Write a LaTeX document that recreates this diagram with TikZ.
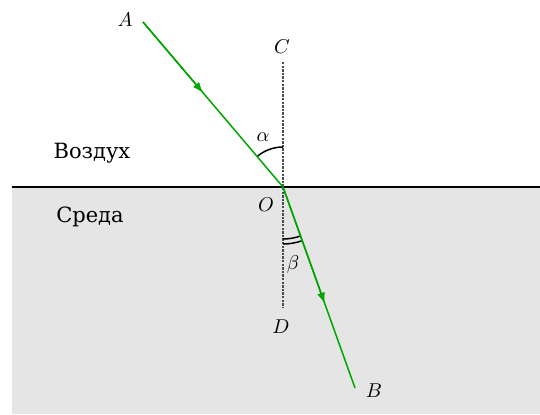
\documentclass[tikz,border=0pt]{standalone}
\usepackage{amsmath,amssymb}
\usepackage{fontspec}
\newfontfamily\cyrfont{DejaVu Serif}
\usepackage{tikz}
\usetikzlibrary{calc}
\usetikzlibrary{arrows.meta}

\begin{document}
\begin{tikzpicture}[x=0.5pt, y=0.5pt, every node/.style={font=\normalsize}]
\useasboundingbox (0,0) rectangle (540,414);

% ===================== MEDIA =====================
\fill[gray!20] (12,0) rectangle (540,227);
\draw[line width=0.8pt] (12,227) -- (540,227);

\node[font=\cyrfont\fontsize{10.5}{12}\selectfont] (air) at (92,261) {Воздух};
\node[font=\cyrfont\fontsize{10.5}{12}\selectfont] (med) at (90,197) {Среда};

% ===================== POINTS =====================
\coordinate (O) at (283,227);
\coordinate (A) at (143,392);
\coordinate (B) at (355,26);
\coordinate (C) at (283,352);
\coordinate (D) at (283,107);

\node (lA) at (125,394) {$A$};
\node (lB) at (374,23) {$B$};
\node (lC) at (282,367) {$C$};
\node (lD) at (281,87) {$D$};
\node (lO) at (266,209) {$O$};

% Normal
\draw[gray!60!black, line width=1.1pt, dash pattern=on 1.2pt off 0.6pt] (C) -- (D);

% Angles
\draw[line width=0.75pt] ($(O)+(90:40)$) arc (90:130.5:40);
\draw[line width=0.75pt] ($(O)+(-90:52)$) arc (-90:-70.4:52);
\draw[line width=0.75pt] ($(O)+(-90:57)$) arc (-90:-70.4:57);
\node (la) at (263,277) {$\alpha$};
\node (lb) at (293,150) {$\beta$};

% ===================== RAY =====================
\draw[-{Latex[length=5.5pt, width=4pt]}, line width=0.75pt, green!65!black] (A) -- ($(A)!0.43!(O)$);
\draw[line width=0.75pt, green!65!black] (A) -- (O);

\draw[-{Latex[length=5.5pt, width=4pt]}, line width=0.75pt, green!65!black] (O) -- ($(O)!0.58!(B)$);
\draw[line width=0.75pt, green!65!black] (O) -- (B);

\end{tikzpicture}
\end{document}
